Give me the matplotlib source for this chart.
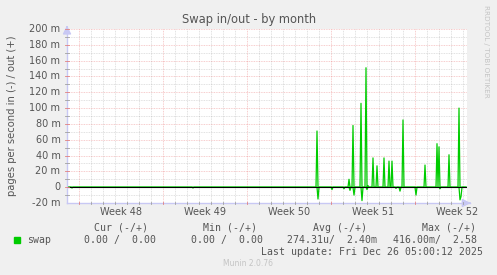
import numpy as np
import matplotlib
matplotlib.use('Agg')
import matplotlib.pyplot as plt

# samples every 2 hours, x in days from left edge of the graph
step_per_day = 12
n_samples = 400

# swap out (+), values in milli pages/s
out_days = [20.86, 23.50, 23.86, 24.53, 24.94, 25.08, 25.53, 25.86, 26.44,
            26.86, 27.06, 28.03, 29.86, 30.86, 31.03, 31.86, 32.69]
out_vals = [71, 10, 78, 106, 151, 2, 37, 27, 37,
            33, 33, 85, 28, 55, 51, 41, 100]

# swap in (-), values in milli pages/s (drawn negative)
in_days = [0.44, 10.47, 20.94, 22.08, 23.08, 23.58, 23.94, 24.58, 25.00,
           27.42, 27.78, 29.10, 31.08, 32.75, 32.86]
in_vals = [1, 1, 15, 3, 2, 4, 10, 17, 3,
           1.5, 5, 10, 2, 16, 12]

week_days = [1, 8, 15, 22, 29]
week_labels = ['Week 48', 'Week 49', 'Week 50', 'Week 51', 'Week 52']

yticks = [-20, 0, 20, 40, 60, 80, 100, 120, 140, 160, 180, 200]
ytick_labels = ['-20 m', '0'] + ['%d m' % v for v in yticks[2:]]

legend_head = ['Cur (-/+)', 'Min (-/+)', 'Avg (-/+)', 'Max (-/+)']
legend_vals = ['0.00 /  0.00', '0.00 /  0.00', '274.31u/  2.40m', '416.00m/  2.58']

x = np.arange(n_samples) / step_per_day
out_series = np.zeros(n_samples)
in_series = np.zeros(n_samples)
for d, v in zip(out_days, out_vals):
    out_series[int(round(d * step_per_day))] = v
for d, v in zip(in_days, in_vals):
    in_series[int(round(d * step_per_day))] = -v

W, H = 497, 275
fig = plt.figure(figsize=(W / 100, H / 100), dpi=100)
fig.patch.set_facecolor('#F0F0F0')

left, right, top, bottom = 67, 467, 29, 203
ax = fig.add_axes([left / W, 1 - bottom / H, (right - left) / W, (bottom - top) / H])
ax.set_facecolor('white')
xmax = n_samples / step_per_day
ax.set_xlim(0, xmax)
ax.set_ylim(-20, 200)

txt = '#555555'
minor_c = (0.55, 0.55, 0.55, 0.35)
major_c = (0.9, 0.35, 0.35, 0.4)
# grid
for d in np.arange(1, xmax, 1):
    if int(d) in week_days:
        continue
    ax.axvline(d, color=minor_c, lw=0.6, ls=(0, (1, 1)), zorder=1)
for v in range(-10, 200, 20):
    ax.axhline(v, color=minor_c, lw=0.6, ls=(0, (1, 1)), zorder=1)
for d in week_days:
    ax.axvline(d, color=major_c, lw=0.6, ls=(0, (1, 1)), zorder=1)
for v in yticks[1:]:
    ax.axhline(v, color=major_c, lw=0.6, ls=(0, (1, 1)), zorder=1)

ax.plot(x, out_series, color='#00CC00', lw=0.9, zorder=3)
ax.plot(x, in_series, color='#00CC00', lw=0.9, zorder=3)
ax.axhline(0, color='black', lw=0.8, zorder=4)

for s in ax.spines.values():
    s.set_visible(False)
ax.set_xticks([])
ax.set_yticks([])

# axes with arrows
axis_col = '#C8C8F4'
ax.plot([0, 0], [-20, 200], color=axis_col, lw=1, clip_on=False, zorder=5)
ax.plot([0, xmax + 0.25], [-20, -20], color=axis_col, lw=1, clip_on=False, zorder=5)
ax.annotate('', xy=(0, 208), xytext=(0, 199), xycoords='data',
            arrowprops=dict(arrowstyle='-|>,head_width=0.25,head_length=0.5',
                            color=axis_col, lw=1), annotation_clip=False)
ax.annotate('', xy=(xmax + 0.55, -20), xytext=(xmax, -20), xycoords='data',
            arrowprops=dict(arrowstyle='-|>,head_width=0.25,head_length=0.5',
                            color=axis_col, lw=1), annotation_clip=False)

# tick marks
for d in np.arange(1, xmax, 1):
    c = '#E08080' if int(d) in week_days else '#A0A0A0'
    ax.plot([d, d], [-21.5, -18.5], color=c, lw=0.6, clip_on=False, zorder=6)
for v in range(-10, 201, 10):
    c = '#E08080' if v % 20 == 0 else '#A0A0A0'
    ax.plot([-0.13, 0.13], [v, v], color=c, lw=0.6, clip_on=False, zorder=6)

# tick labels
for v, lab in zip(yticks, ytick_labels):
    ax.text(-0.55, v, lab, ha='right', va='center', fontsize=7, color=txt)
for d, lab in zip(week_days, week_labels):
    ax.text(d + 3.5, -31, lab, ha='center', va='center', fontsize=7, color=txt)

fig.text(249 / W, 1 - 19 / H, 'Swap in/out - by month', ha='center', va='center',
         fontsize=8.3, color=txt)
fig.text(12 / W, 1 - 116 / H, 'pages per second in (-) / out (+)', ha='center',
         va='center', rotation=90, fontsize=7.2, color=txt)
fig.text(486 / W, 1 - 5 / H, 'RRDTOOL / TOBI OETIKER', ha='center', va='top',
         rotation=-90, fontsize=5.2, color='#C4C4C4')

mono = 'DejaVu Sans Mono'
head_x = [121, 230, 340, 449]
for hx, h in zip(head_x, legend_head):
    fig.text(hx / W, 1 - 228 / H, h, ha='center', va='center', family=mono,
             fontsize=7.1, color=txt)
val_x = [156, 263, 377, 477]
for vx, v in zip(val_x, legend_vals):
    fig.text(vx / W, 1 - 240 / H, v, ha='right', va='center', family=mono,
             fontsize=7.1, color=txt)
fig.patches.append(plt.Rectangle((14 / W, 1 - 243 / H), 6 / W, 6 / H,
                                 transform=fig.transFigure, color='#00CC00'))
fig.text(27 / W, 1 - 240 / H, 'swap', ha='left', va='center', family=mono,
         fontsize=7.1, color=txt)
fig.text(483 / W, 1 - 252 / H, 'Last update: Fri Dec 26 05:00:12 2025', ha='right',
         va='center', family=mono, fontsize=7.1, color=txt)
fig.text(248 / W, 1 - 264 / H, 'Munin 2.0.76', ha='center', va='center',
         fontsize=5.5, color='#C4C4C4')

fig.savefig('out.png', dpi=100, facecolor=fig.get_facecolor())
